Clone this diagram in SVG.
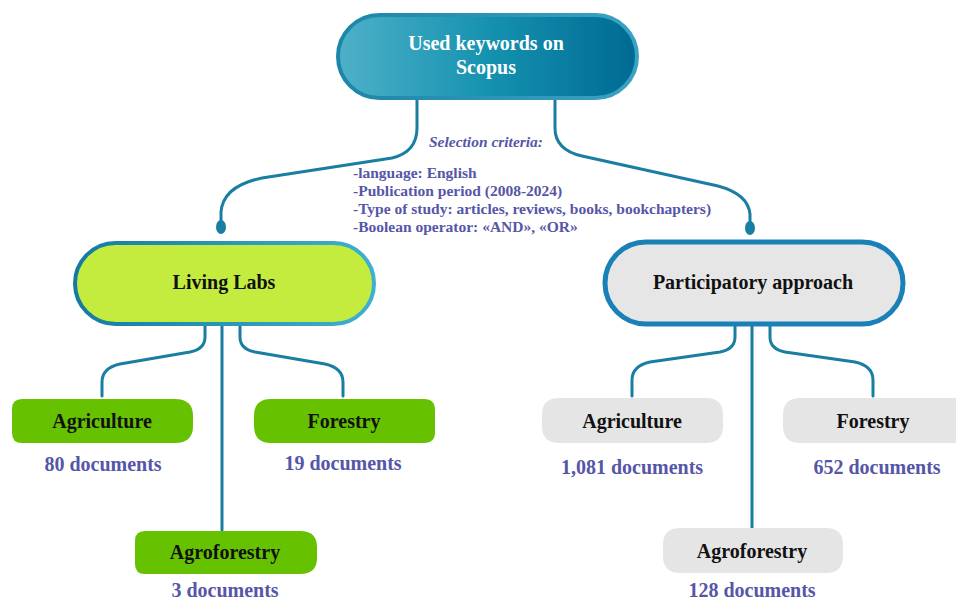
<svg xmlns="http://www.w3.org/2000/svg" width="956" height="600" viewBox="0 0 956 600">
  <defs>
    <linearGradient id="topFill" x1="0" y1="0" x2="1" y2="0">
      <stop offset="0" stop-color="#4fb0c8"/>
      <stop offset="0.5" stop-color="#1592b0"/>
      <stop offset="1" stop-color="#006a92"/>
    </linearGradient>
    <linearGradient id="topStroke" x1="0" y1="0" x2="1" y2="0">
      <stop offset="0" stop-color="#1d86a8"/>
      <stop offset="1" stop-color="#3aa3c4"/>
    </linearGradient>
    <linearGradient id="llStroke" x1="0" y1="0" x2="1" y2="0">
      <stop offset="0" stop-color="#157aa3"/>
      <stop offset="1" stop-color="#3fb0cf"/>
    </linearGradient>
    <style>
      .conn { fill: none; stroke: #1a7ea3; stroke-width: 3; stroke-linecap: round; }
      .dot { fill: #1a7ea3; }
      .title { font-family: "Liberation Serif", "Times New Roman", serif; font-weight: bold; font-size: 20px; text-anchor: middle; }
      .white { fill: #ffffff; }
      .black { fill: #111111; }
      .docs { font-family: "Liberation Serif", "Times New Roman", serif; font-weight: bold; font-size: 20px; fill: #5656a8; text-anchor: middle; }
      .crit { font-family: "Liberation Serif", "Times New Roman", serif; font-weight: bold; font-size: 15.5px; fill: #5656a8; }
      .green { fill: #66c200; }
      .gray { fill: #e5e5e5; }
    </style>
  </defs>

  <!-- connectors -->
  <g id="connectors">
    <path class="conn" d="M417,99 L417,128 Q417,152 392,158 L262,178 Q223,186 221,212 L221,224"/>
    <path class="conn" d="M555,99 L555,128 Q555,150 582,156 L718,186 Q748,194 750,214 L750,224"/>
    <ellipse class="dot" cx="221" cy="227" rx="5" ry="7"/>
    <ellipse class="dot" cx="750" cy="228" rx="5" ry="7"/>

    <path class="conn" d="M205,326 L205,337 Q205,349 190,352 L120,364 Q102,368 102,382 L102,396"/>
    <path class="conn" d="M222,326 L222,530"/>
    <path class="conn" d="M240,326 L240,337 Q240,349 255,352 L325,364 Q343,368 343,382 L343,396"/>

    <path class="conn" d="M735,326 L735,337 Q735,349 720,352 L650,362 Q632,366 632,380 L632,396"/>
    <path class="conn" d="M752,326 L752,528"/>
    <path class="conn" d="M770,326 L770,337 Q770,349 785,352 L855,362 Q873,366 873,380 L873,396"/>
  </g>

  <!-- root node -->
  <g id="node-scopus">
    <rect x="338" y="15" width="299" height="83" rx="41.5" fill="url(#topFill)" stroke="url(#topStroke)" stroke-width="4"/>
    <text class="title white" x="486" y="50">Used keywords on</text>
    <text class="title white" x="486" y="74">Scopus</text>
  </g>

  <!-- selection criteria -->
  <g id="criteria">
    <text class="crit" x="486" y="147" text-anchor="middle" font-style="italic">Selection criteria:</text>
    <text class="crit" x="353" y="178">-language: English</text>
    <text class="crit" x="353" y="196">-Publication period (2008-2024)</text>
    <text class="crit" x="353" y="214">-Type of study: articles, reviews, books, bookchapters)</text>
    <text class="crit" x="353" y="232">-Boolean operator: «AND», «OR»</text>
  </g>

  <!-- Living Labs branch -->
  <g id="node-living-labs">
    <rect x="75" y="243" width="299" height="81" rx="40.5" fill="#c4ec3e" stroke="url(#llStroke)" stroke-width="4"/>
    <text class="title black" x="224" y="289">Living Labs</text>
  </g>
  <g id="node-ll-agriculture">
    <path class="green" d="M22,399 L175,399 Q193,399 193,416 L193,426 Q193,443 175,443 L22,443 Q12,443 12,433 L12,409 Q12,399 22,399 Z"/>
    <text class="title black" x="102" y="428">Agriculture</text>
    <text class="docs" x="103" y="471">80 documents</text>
  </g>
  <g id="node-ll-forestry">
    <path class="green" d="M271,399 L424,399 Q435,399 435,410 L435,432 Q435,443 424,443 L271,443 Q254,443 254,426 L254,416 Q254,399 271,399 Z"/>
    <text class="title black" x="344" y="428">Forestry</text>
    <text class="docs" x="343" y="470">19 documents</text>
  </g>
  <g id="node-ll-agroforestry">
    <path class="green" d="M145,531 L300,531 Q317,531 317,547 L317,558 Q317,574 300,574 L145,574 Q135,574 135,564 L135,541 Q135,531 145,531 Z"/>
    <text class="title black" x="225" y="559">Agroforestry</text>
    <text class="docs" x="225" y="597">3 documents</text>
  </g>

  <!-- Participatory approach branch -->
  <g id="node-participatory">
    <rect x="605" y="242" width="298" height="82" rx="41" fill="#e6e6e6" stroke="#1a80b8" stroke-width="5"/>
    <text class="title black" x="753" y="289">Participatory approach</text>
  </g>
  <g id="node-pa-agriculture">
    <path class="gray" d="M559,398 L706,398 Q723,398 723,415 L723,426 Q723,443 706,443 L559,443 Q542,443 542,426 L542,415 Q542,398 559,398 Z"/>
    <text class="title black" x="632" y="428">Agriculture</text>
    <text class="docs" x="632" y="474">1,081 documents</text>
  </g>
  <g id="node-pa-forestry">
    <path class="gray" d="M800,398 L960,398 L960,443 L800,443 Q783,443 783,426 L783,415 Q783,398 800,398 Z"/>
    <text class="title black" x="873" y="428">Forestry</text>
    <text class="docs" x="877" y="474">652 documents</text>
  </g>
  <g id="node-pa-agroforestry">
    <path class="gray" d="M680,528 L826,528 Q843,528 843,545 L843,556 Q843,573 826,573 L680,573 Q663,573 663,556 L663,545 Q663,528 680,528 Z"/>
    <text class="title black" x="752" y="558">Agroforestry</text>
    <text class="docs" x="752" y="597">128 documents</text>
  </g>
</svg>
